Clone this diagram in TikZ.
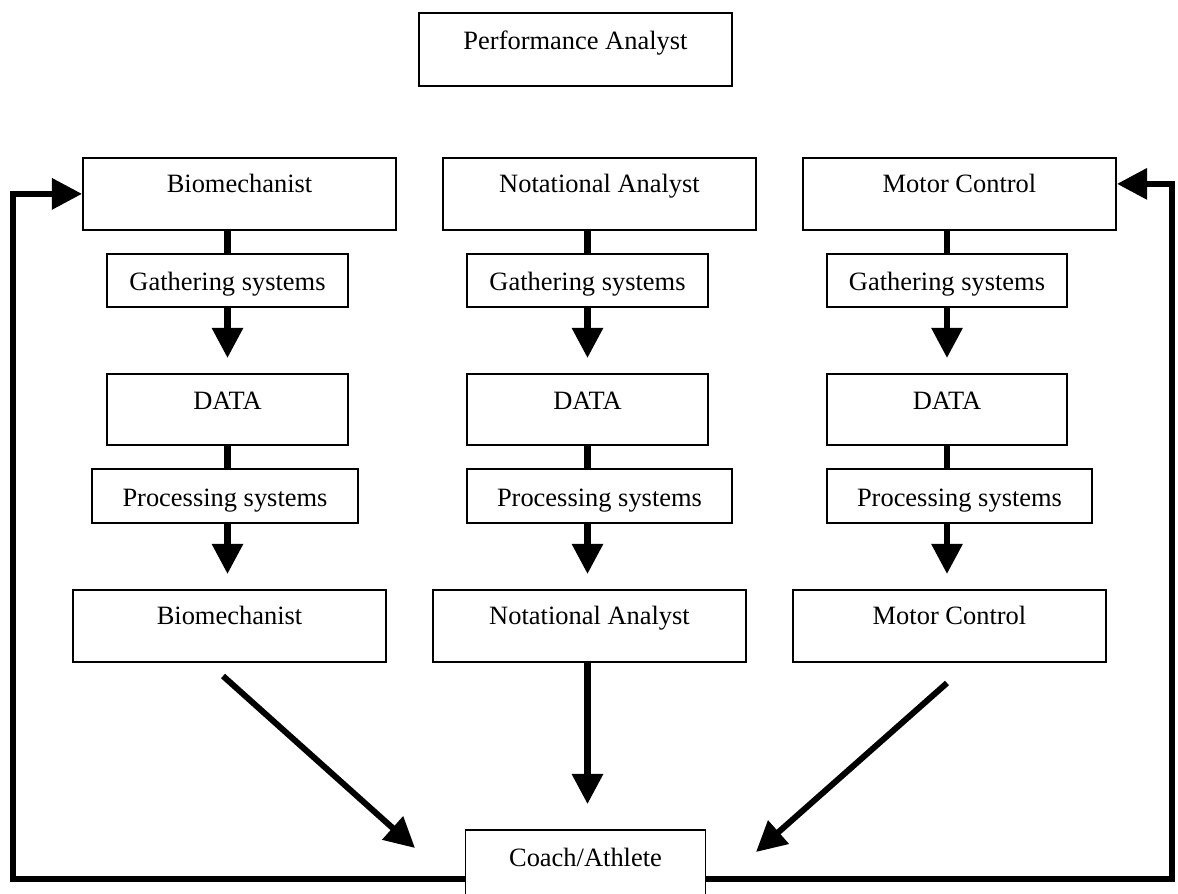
\documentclass[tikz,border=0pt]{standalone}
\usepackage{fontspec}
\setmainfont{Liberation Serif}
\usetikzlibrary{arrows.meta}
\begin{document}
\begin{tikzpicture}[x=0.465pt,y=-0.465pt,
  every node/.style={font=\fontsize{12.3}{14}\selectfont},
  tallbox/.style={draw, line width=0.9pt, anchor=north, inner xsep=0pt, inner ysep=0pt,
    text height=16pt, text depth=17.4pt, align=center},
  shortbox/.style={draw, line width=0.9pt, anchor=north, inner xsep=0pt, inner ysep=0pt,
    text height=17pt, text depth=7.7pt, align=center},
  link/.style={line width=2.8pt},
  flow/.style={line width=2.8pt, -{Triangle[length=14pt,width=14pt]}},
  fb/.style={line width=2.8pt, line join=miter, -{Triangle[length=14pt,width=14pt]}}
]
\useasboundingbox (0,0) rectangle (1178,894);
\clip (0,0) rectangle (1178,894);

% top
\node[tallbox, minimum width=313*0.465pt, text height=17pt, text depth=16.9pt] (pa) at (575.5,12) {Performance Analyst};

% first row
\node[tallbox, minimum width=313*0.465pt] (b1) at (239.5,157) {Biomechanist};
\node[tallbox, minimum width=313*0.465pt] (n1) at (599.5,157) {Notational Analyst};
\node[tallbox, minimum width=313*0.465pt] (m1) at (959.5,157) {Motor Control};

% gathering
\node[shortbox, minimum width=241*0.465pt] (g1) at (227.5,253) {Gathering systems};
\node[shortbox, minimum width=241*0.465pt] (g2) at (587.5,253) {Gathering systems};
\node[shortbox, minimum width=240*0.465pt] (g3) at (947,253) {Gathering systems};

% data
\node[tallbox, minimum width=241*0.465pt, text height=16.5pt, text depth=16.5pt] (d1) at (227.5,373) {DATA};
\node[tallbox, minimum width=241*0.465pt, text height=16.5pt, text depth=16.5pt] (d2) at (587.5,373) {DATA};
\node[tallbox, minimum width=240*0.465pt, text height=16.5pt, text depth=16.5pt] (d3) at (947,373) {DATA};

% processing
\node[shortbox, minimum width=266*0.465pt, text height=17.5pt, text depth=7.6pt] (p1) at (225,468) {Processing systems};
\node[shortbox, minimum width=265*0.465pt, text height=17.5pt, text depth=7.6pt] (p2) at (599.5,468) {Processing systems};
\node[shortbox, minimum width=265*0.465pt, text height=17.5pt, text depth=7.6pt] (p3) at (959.5,468) {Processing systems};

% bottom row
\node[tallbox, minimum width=313*0.465pt] (b2) at (229.5,589) {Biomechanist};
\node[tallbox, minimum width=313*0.465pt] (n2) at (589.5,589) {Notational Analyst};
\node[tallbox, minimum width=313*0.465pt] (m2) at (949.5,589) {Motor Control};

% coach
\node[tallbox, minimum width=240*0.465pt, text height=17pt, text depth=20.7pt] (ca) at (585.5,829) {Coach/Athlete};

% column connectors
\foreach \t/\g/\d/\p/\b in {b1/g1/d1/p1/b2, n1/g2/d2/p2/n2, m1/g3/d3/p3/m2}{
  \draw[link] (\g.north) -- (\g.north |- \t.south);
  \draw[flow, shorten >=7pt] (\g.south) -- (\d.north);
  \draw[link] (\d.south) -- (\d.south |- \p.north);
  \draw[flow, shorten >=7pt] (\d.south |- \p.south) -- (\d.south |- \b.north);
}

% to coach
\coordinate (ls) at (223,676);
\coordinate (lt) at (415,848);
\coordinate (rs) at (947,683);
\coordinate (rt) at (756,852);
\draw[flow] (ls) -- (lt);
\draw[flow] (rs) -- (rt);
\draw[flow, shorten >=11.6pt] (d2.south |- n2.south) -- (d2.south |- ca.north);

% feedback
\coordinate (cl) at (466,879);
\coordinate (cr) at (705,879);
\draw[fb] (cl) -- (13,879) |- (b1.west);
\draw[fb] (cr) -- (1172,879) |- ([yshift=4.65pt]m1.east);
\end{tikzpicture}
\end{document}
